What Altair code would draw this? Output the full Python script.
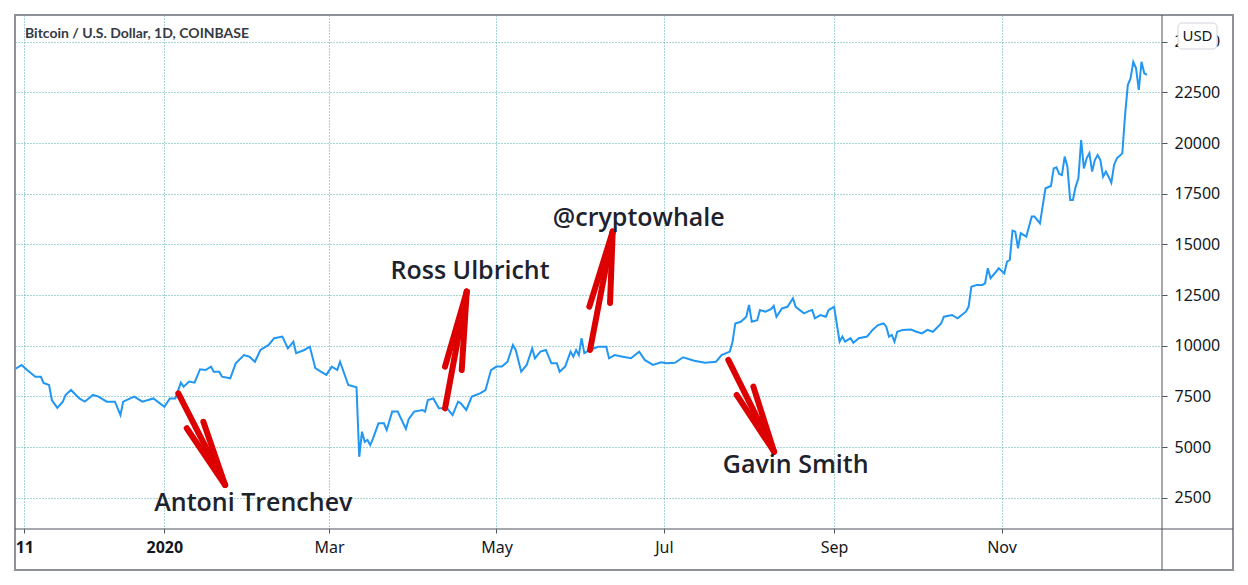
import altair as alt
import pandas as pd

# BTC/USD daily close
dates = [
    "2019-11-07", "2019-11-10", "2019-11-12", "2019-11-15", "2019-11-17", "2019-11-18",
    "2019-11-20", "2019-11-21", "2019-11-23", "2019-11-25", "2019-11-26", "2019-11-28",
    "2019-12-01", "2019-12-03", "2019-12-06", "2019-12-08", "2019-12-11", "2019-12-14",
    "2019-12-16", "2019-12-17", "2019-12-21", "2019-12-24", "2019-12-28",
    "2020-01-01", "2020-01-03", "2020-01-05", "2020-01-07", "2020-01-08", "2020-01-10",
    "2020-01-12", "2020-01-14", "2020-01-16", "2020-01-18", "2020-01-19", "2020-01-21",
    "2020-01-22", "2020-01-25", "2020-01-27", "2020-01-30",
    "2020-02-01", "2020-02-03", "2020-02-05", "2020-02-08", "2020-02-10", "2020-02-13",
    "2020-02-15", "2020-02-17", "2020-02-18", "2020-02-21", "2020-02-23", "2020-02-25",
    "2020-02-27", "2020-02-29",
    "2020-03-02", "2020-03-04", "2020-03-05", "2020-03-08", "2020-03-11", "2020-03-12",
    "2020-03-13", "2020-03-14", "2020-03-15", "2020-03-16", "2020-03-17", "2020-03-19",
    "2020-03-21", "2020-03-22", "2020-03-24", "2020-03-26", "2020-03-29", "2020-03-30",
    "2020-04-01", "2020-04-04", "2020-04-05", "2020-04-06", "2020-04-08", "2020-04-10",
    "2020-04-13", "2020-04-15", "2020-04-17", "2020-04-18", "2020-04-20", "2020-04-22",
    "2020-04-25", "2020-04-27", "2020-04-29",
    "2020-05-01", "2020-05-03", "2020-05-05", "2020-05-07", "2020-05-08", "2020-05-10",
    "2020-05-12", "2020-05-14", "2020-05-15", "2020-05-17", "2020-05-19", "2020-05-21",
    "2020-05-23", "2020-05-24", "2020-05-26", "2020-05-28", "2020-05-29", "2020-05-30",
    "2020-05-31",
    "2020-06-01", "2020-06-02", "2020-06-04", "2020-06-07", "2020-06-10", "2020-06-11",
    "2020-06-13", "2020-06-16", "2020-06-19", "2020-06-22", "2020-06-24", "2020-06-27",
    "2020-06-30",
    "2020-07-02", "2020-07-05", "2020-07-08", "2020-07-12", "2020-07-16", "2020-07-20",
    "2020-07-22", "2020-07-25", "2020-07-26", "2020-07-27", "2020-07-29", "2020-07-31",
    "2020-08-01", "2020-08-02", "2020-08-04", "2020-08-05", "2020-08-07", "2020-08-09",
    "2020-08-10", "2020-08-11", "2020-08-13", "2020-08-15", "2020-08-17", "2020-08-18",
    "2020-08-21", "2020-08-23", "2020-08-24", "2020-08-25", "2020-08-27", "2020-08-29",
    "2020-08-30", "2020-08-31",
    "2020-09-01", "2020-09-03", "2020-09-04", "2020-09-05", "2020-09-07", "2020-09-08",
    "2020-09-10", "2020-09-13", "2020-09-15", "2020-09-17", "2020-09-19", "2020-09-20",
    "2020-09-21", "2020-09-22", "2020-09-23", "2020-09-24", "2020-09-26", "2020-09-29",
    "2020-10-01", "2020-10-03", "2020-10-05", "2020-10-07", "2020-10-10", "2020-10-11",
    "2020-10-14", "2020-10-15", "2020-10-16", "2020-10-19", "2020-10-20", "2020-10-21",
    "2020-10-23", "2020-10-25", "2020-10-26", "2020-10-27", "2020-10-28", "2020-10-30",
    "2020-10-31",
    "2020-11-02", "2020-11-03", "2020-11-04", "2020-11-05", "2020-11-06", "2020-11-07",
    "2020-11-08", "2020-11-10", "2020-11-12", "2020-11-13", "2020-11-15", "2020-11-17",
    "2020-11-19", "2020-11-20", "2020-11-21", "2020-11-22", "2020-11-23", "2020-11-24",
    "2020-11-25", "2020-11-26", "2020-11-27", "2020-11-28", "2020-11-29", "2020-11-30",
    "2020-12-01", "2020-12-02", "2020-12-03", "2020-12-04", "2020-12-05", "2020-12-06",
    "2020-12-07", "2020-12-08", "2020-12-09", "2020-12-10", "2020-12-11", "2020-12-12",
    "2020-12-13", "2020-12-15", "2020-12-16", "2020-12-17", "2020-12-18", "2020-12-19",
    "2020-12-20", "2020-12-21", "2020-12-22", "2020-12-23", "2020-12-24",
]
prices = [
    8800, 9050, 8800, 8470, 8470, 8160,
    8060, 7320, 6930, 7240, 7570, 7815,
    7400, 7240, 7570, 7490, 7240, 7240,
    6580, 7240, 7490, 7240, 7400,
    6990, 7400, 7400, 8180, 7980, 8230,
    8180, 8840, 8800, 8970, 8720, 8720,
    8470, 8390, 9130, 9540,
    9460, 9210, 9790, 10040, 10370, 10450,
    9870, 10200, 9630, 9790, 9950, 8890,
    8720, 8560,
    8970, 8800, 9210, 8060, 7950, 4520,
    5760, 5260, 5350, 5100, 5420, 6170,
    6170, 5840, 6750, 6750, 5900, 6380,
    6750, 6830, 6750, 7320, 7400, 6910,
    6910, 6580, 7240, 7160, 6830, 7490,
    7650, 7815, 8800,
    8970, 8970, 9210, 10040, 9790, 8720,
    9050, 9870, 9380, 9710, 9790, 9130,
    9130, 8720, 8970, 9710, 9460, 9790,
    9540,
    10370, 9630, 9790, 9950, 9950, 9380,
    9540, 9460, 9380, 9710, 9300, 9050,
    9180,
    9130, 9160, 9430, 9260, 9160, 9210,
    9540, 9710, 10200, 11100, 11180, 11430,
    12010, 11180, 11260, 11760, 11680, 11800,
    11960, 11430, 11840, 11920, 12340, 11920,
    11600, 11720, 11760, 11350, 11510, 11430,
    11760, 11840,
    11920, 10200, 10450, 10200, 10370, 10150,
    10370, 10450, 10780, 11020, 11100, 10940,
    10450, 10530, 10200, 10690, 10780, 10800,
    10690, 10610, 10780, 10690, 11100, 11430,
    11510, 11430, 11350, 11680, 11920, 12910,
    13000, 13000, 13080, 13820, 13330, 13650,
    13820,
    13570, 14150, 14230, 15680, 15630, 14810,
    15550, 15380, 16370, 16370, 16040, 17770,
    17880, 18750, 18800, 18470, 18420, 19330,
    18840, 17190, 17190, 17850, 18260, 20150,
    18750, 19250, 19500, 18590, 19160, 19410,
    19160, 18340, 18590, 18340, 18040, 18920,
    19250, 19490, 21380, 22860, 23190, 24010,
    23690, 22620, 24010, 23440, 23360,
]

y_ticks = [2500, 5000, 7500, 10000, 12500, 15000, 17500, 20000, 22500, 25000]
x_ticks = [(2019, 11, 11), (2020, 1, 1), (2020, 3, 1), (2020, 5, 1),
           (2020, 7, 1), (2020, 9, 1), (2020, 11, 1)]

# annotations: name, label anchor, arrow start, arrow tip and the two barb ends
names = ["Antoni Trenchev", "Ross Ulbricht", "@cryptowhale", "Gavin Smith"]
label_dates = ["2020-02-02T10:00Z", "2020-04-21T09:00Z", "2020-06-21T20:00Z", "2020-08-18T00:00Z"]
label_vals = [2225, 13690, 16300, 4115]
start_dates = ["2020-01-06T02:00Z", "2020-04-12T06:00Z", "2020-06-04T02:00Z", "2020-07-24T11:00Z"]
start_vals = [7650, 6910, 9790, 9300]
tip_dates = ["2020-01-23T03:00Z", "2020-04-20T04:00Z", "2020-06-12T08:00Z", "2020-08-10T03:00Z"]
tip_vals = [3130, 12670, 15630, 4770]
barb1_dates = ["2020-01-09T04:00Z", "2020-04-12T06:00Z", "2020-06-03T20:00Z", "2020-07-27T12:00Z"]
barb1_vals = [5930, 8970, 11930, 7570]
barb2_dates = ["2020-01-15T05:00Z", "2020-04-18T08:00Z", "2020-06-11T09:00Z", "2020-08-02T14:00Z"]
barb2_vals = [6250, 8800, 12110, 7980]

df = pd.DataFrame({"date": dates, "price": prices})

segments = []
for i in range(len(names)):
    for d, v in [(start_dates[i], start_vals[i]), (barb1_dates[i], barb1_vals[i]),
                 (barb2_dates[i], barb2_vals[i])]:
        segments.append({"x": d, "y": v, "x2": tip_dates[i], "y2": tip_vals[i]})
seg_df = pd.DataFrame(segments)
lab_df = pd.DataFrame({"name": names, "date": label_dates, "val": label_vals})
one = pd.DataFrame({"a": [0]})

W, H = 1147, 514
x_scale = alt.Scale(type="utc",
                    domain=[alt.DateTime(year=2019, month=11, date=7, hours=14, utc=True),
                            alt.DateTime(year=2020, month=12, date=29, hours=11, utc=True)])
y_scale = alt.Scale(domain=[957, 26318], nice=False, zero=False)

grid_color = "#4fa9a9"
text_dark = "#131722"

x_axis = alt.Axis(
    values=[alt.DateTime(year=y, month=m, date=d, utc=True) for y, m, d in x_ticks],
    labelExpr="utcdate(datum.value) == 11 ? '11' : utcmonth(datum.value) == 0 ? "
              "utcFormat(datum.value, '%Y') : utcFormat(datum.value, '%b')",
    labelFontWeight={"condition": {"test": "utcdate(datum.value) == 1 && utcmonth(datum.value) > 0",
                                   "value": "normal"}, "value": "bold"},
    grid=True, gridColor=grid_color, gridDash=[1, 2], gridWidth=1,
    domain=False, tickColor="#50535e", tickSize=4, labelPadding=6,
    labelFont="Noto Sans", labelFontSize=16, labelColor=text_dark,
)
y_axis = alt.Axis(
    orient="right", values=y_ticks, format="d",
    grid=True, gridColor=grid_color, gridDash=[1, 2], gridWidth=1,
    domain=False, tickColor="#50535e", tickSize=5, labelPadding=7,
    labelFont="Noto Sans", labelFontSize=16, labelColor=text_dark,
)

line = alt.Chart(df).mark_line(color="#2196f3", strokeWidth=2, clip=True).encode(
    x=alt.X("date:T", scale=x_scale, title=None, axis=x_axis),
    y=alt.Y("price:Q", scale=y_scale, title=None, axis=y_axis),
)

arrows = alt.Chart(seg_df).mark_rule(color="#dd0000", strokeWidth=6, strokeCap="round").encode(
    x=alt.X("x:T", scale=x_scale, title=None, axis=x_axis),
    x2="x2:T",
    y=alt.Y("y:Q", scale=y_scale, title=None, axis=y_axis),
    y2="y2:Q",
)

labels = alt.Chart(lab_df).mark_text(
    font="Open Sans", fontWeight=600, fontSize=25, color="#1e222d", baseline="middle"
).encode(
    x=alt.X("date:T", scale=x_scale, title=None, axis=x_axis),
    y=alt.Y("val:Q", scale=y_scale, title=None, axis=y_axis),
    text="name:N",
)

title = alt.Chart(one).mark_text(
    text="Bitcoin / U.S. Dollar, 1D, COINBASE", align="left", baseline="middle",
    font="Lato", fontWeight="bold", fontSize=14, color="#363a45"
).encode(x=alt.value(10), y=alt.value(19))

frame = alt.Chart(one).mark_rect(fill="transparent", stroke="#8f9199", strokeWidth=2).encode(
    x=alt.value(0), x2=alt.value(1218), y=alt.value(0), y2=alt.value(555)
)
vline = alt.Chart(one).mark_rule(color="#50535e", strokeWidth=1).encode(
    x=alt.value(W), y=alt.value(0), y2=alt.value(555)
)
hline = alt.Chart(one).mark_rule(color="#50535e", strokeWidth=1).encode(
    x=alt.value(0), x2=alt.value(1218), y=alt.value(H)
)

usd_box = alt.Chart(one).mark_rect(fill="white", stroke="#d1d4dc", strokeWidth=1, cornerRadius=4).encode(
    x=alt.value(1163), x2=alt.value(1202), y=alt.value(8), y2=alt.value(34)
)
usd_text = alt.Chart(one).mark_text(
    text="USD", font="Noto Sans", fontSize=15, color=text_dark, align="center", baseline="middle"
).encode(x=alt.value(1182.5), y=alt.value(21))

chart = alt.layer(line, arrows, labels, title, frame, vline, hline, usd_box, usd_text).properties(
    width=W, height=H,
    autosize=alt.AutoSizeParams(type="none"),
    padding={"left": 7, "top": 7, "right": 78, "bottom": 48},
    background="white",
).configure_view(strokeWidth=0)

chart.save("out.html", embed_options={"renderer": "svg", "actions": False})
